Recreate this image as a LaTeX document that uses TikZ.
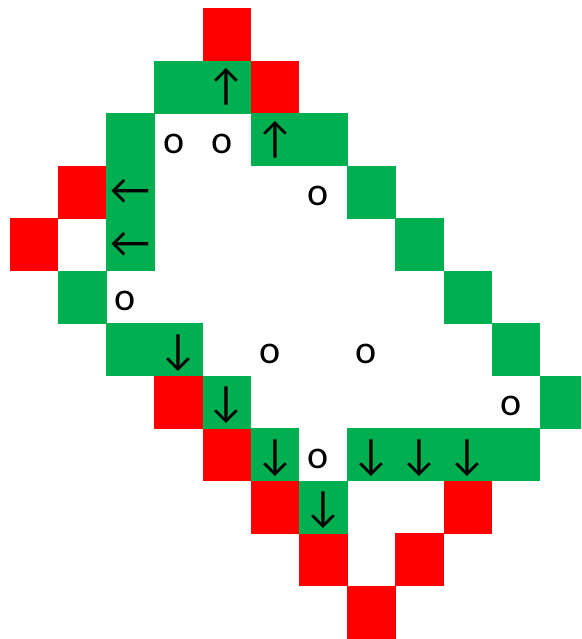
\documentclass[tikz,border=0pt]{standalone}
\usepackage{fontspec}
\setmainfont{Carlito}
\usepackage{tikz}
\definecolor{cellRed}{RGB}{255,0,0}
\definecolor{cellGreen}{RGB}{0,176,80}
\newcommand{\cw}{48.2}
\newcommand{\ch}{52.5}
\tikzset{
  cell/.style={rectangle, inner sep=0pt, minimum width=48.5pt, minimum height=52.8pt,
    font=\fontsize{40}{40}\selectfont},
  redcell/.style={cell, fill=cellRed},
  greencell/.style={cell, fill=cellGreen},
  arrowtext/.style={inner sep=0pt, font=\fontsize{44}{44}\selectfont},
  markcell/.style={cell, xshift=-5pt, yshift=-4pt}
}
\begin{document}
\begin{tikzpicture}[x=1pt, y=-1pt]
  \useasboundingbox (0,0) rectangle (581,639);
  \clip (0,0) rectangle (581,639);
  \foreach \c/\r in {4/0,5/1,1/3,0/4,3/7,4/8,5/9,9/9,6/10,8/10,7/11}
    \node[redcell] (red-\c-\r) at ({10+(\c+0.5)*\cw},{8.5+(\r+0.5)*\ch}) {};
  \foreach \c/\r in {3/1,2/2,6/2,7/3,8/4,1/5,9/5,2/6,10/6,11/7,10/8}
    \node[greencell] (green-\c-\r) at ({10+(\c+0.5)*\cw},{8.5+(\r+0.5)*\ch}) {};
  \foreach \c/\r in {4/1,5/2}
    \node[greencell, label={[arrowtext]center:↑}] (up-\c-\r)
      at ({10+(\c+0.5)*\cw},{8.5+(\r+0.5)*\ch}) {};
  \foreach \c/\r in {2/3,2/4}
    \node[greencell, label={[arrowtext]center:←}] (left-\c-\r)
      at ({10+(\c+0.5)*\cw},{8.5+(\r+0.5)*\ch}) {};
  \foreach \c/\r in {3/6,4/7,5/8,6/9,7/8,8/8,9/8}
    \node[greencell, label={[arrowtext, yshift=-3pt]center:↓}] (down-\c-\r)
      at ({10+(\c+0.5)*\cw},{8.5+(\r+0.5)*\ch}) {};
  \foreach \c/\r in {3/2,4/2,6/3,2/5,5/6,7/6,10/7,6/8}
    \node[markcell] (mark-\c-\r) at ({10+(\c+0.5)*\cw},{8.5+(\r+0.5)*\ch}) {o};
\end{tikzpicture}
\end{document}
